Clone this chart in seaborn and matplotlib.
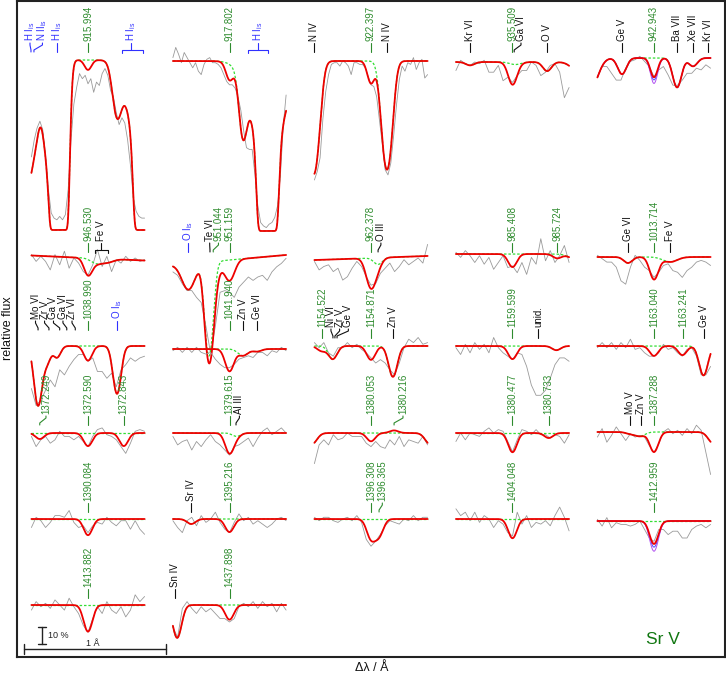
import numpy as np
import pandas as pd
import matplotlib
matplotlib.use('Agg')
import matplotlib.pyplot as plt
import seaborn as sns

# ---------------------------------------------------------------
# Line data per panel.  lines: (offset / A, optical depth, sigma / A, is Sr V)
# gray: observed relative flux in percent, evenly spread over -0.4 .. +0.4 A
# labels: (text, line offset, label offset, kind, bracket span)
# ---------------------------------------------------------------
lines_915994 = [(-0.47, 1.6, 0.08, 0), (-0.29, 0.6, 0.025, 0), (-0.205, 30.0, 0.029, 0),
                (0.0, 0.06, 0.024, 1), (0.205, 0.35, 0.03, 0), (0.396, 30.0, 0.029, 0),
                (0.396, 0.9, 0.085, 0)]
gray_915994 = [43, 53, 60, 64, 59, 44, 24, 10, 7, 6, 8, 6, 9, 24, 53, 74, 84, 92, 89, 91, 86,
               89, 81, 87, 85, 92, 95, 91, 82, 78, 69, 62, 66, 63, 53, 38, 19, 11, 8, 7, 7]
labels_915994 = [("H I$_{\\rm is}$", -0.403, -0.41, 'is', None),
                 ("N II$_{\\rm is}$", -0.382, -0.322, 'is', None),
                 ("H I$_{\\rm is}$", -0.219, -0.219, 'is', None),
                 ("915.994", 0.0, 0.0, 'sr', None),
                 ("H I$_{\\rm is}$", 0.304, 0.304, 'is', (0.24, 0.389))]

lines_917802 = [(0.0, 0.10, 0.025, 1), (0.095, 0.45, 0.025, 0), (0.27, 30.0, 0.03, 0),
                (0.27, 0.8, 0.10, 0)]
gray_917802 = [102, 108, 104, 99, 105, 102, 99, 96, 99, 94, 92, 98, 101, 102, 99, 99, 98, 96, 92,
               88, 86, 86, 84, 79, 71, 59, 49, 48, 48, 33, 15, 5, 3, 2, 4, 5, 8, 15, 33, 62, 80]
labels_917802 = [("917.802", 0.0, 0.0, 'sr', None),
                 ("H I$_{\\rm is}$", 0.2, 0.2, 'is', (0.13, 0.272))]

lines_922397 = [(-0.405, 1.1, 0.035, 0), (0.0, 0.14, 0.025, 1), (0.113, 1.02, 0.033, 0)]
gray_922397 = [30, 35, 43, 66, 82, 92, 98, 99, 99, 97, 100, 99, 97, 92, 99, 99, 98, 98, 96, 91,
               86, 85, 79, 65, 51, 36, 33, 40, 56, 74, 89, 97, 94, 99, 98, 102, 95, 99, 101, 90, 92]
labels_922397 = [("N IV", -0.403, -0.403, 'id', None), ("922.397", 0.0, 0.0, 'sr', None),
                 ("N IV", 0.113, 0.113, 'id', None)]

lines_935509 = [(-0.30, 0.02, 0.03, 0), (0.0, 0.13, 0.03, 1), (0.02, 0.015, 0.04, 0),
                (0.245, 0.055, 0.03, 0), (0.47, 0.06, 0.05, 0)]
gray_935509 = [95, 101, 99, 98, 100, 99, 101, 94, 94, 98, 89, 91, 88, 92, 95, 95, 100, 98, 92,
               94, 98, 99, 94, 79, 85]
labels_935509 = [("Kr VI", -0.30, -0.30, 'id', None), ("935.509", 0.0, 0.0, 'sr', None),
                 ("Ga VI", 0.012, 0.06, 'id', None), ("O V", 0.244, 0.244, 'id', None)]

lines_942943 = [(-0.45, 0.2, 0.05, 0), (-0.226, 0.1, 0.03, 0), (0.0, 0.12, 0.025, 1),
                (0.163, 0.19, 0.03, 0), (0.276, 0.05, 0.03, 0)]
gray_942943 = [89, 95, 95, 91, 87, 87, 94, 98, 99, 101, 98, 95, 89, 93, 95, 90, 84, 84, 87, 91,
               91, 94, 93, 96, 94]
labels_942943 = [("Ge V", -0.226, -0.226, 'id', None), ("942.943", 0.0, 0.0, 'sr', None),
                 ("Ba VII", 0.163, 0.163, 'id', None), ("Xe VII", 0.276, 0.276, 'id', None),
                 ("Kr VI", 0.382, 0.382, 'id', None)]

lines_946530 = [(0.0, 0.10, 0.028, 1), (0.06, 0.03, 0.04, 0), (0.14, 0.02, 0.04, 0)]
gray_946530 = [102, 98, 101, 98, 93, 102, 96, 104, 94, 100, 97, 92, 90, 96, 105, 95, 101, 92, 99,
               97, 101, 98, 100, 98, 99]
labels_946530 = [("946.530", 0.0, 0.0, 'sr', None), ("Fe V", 0.092, 0.092, 'id', (0.049, 0.141))]

lines_951159 = [(-0.29, 0.17, 0.045, 0), (-0.145, 0.82, 0.027, 0), (-0.115, 0.15, 0.035, 1),
                (0.0, 0.13, 0.035, 1)]
gray_951159 = [93, 91, 86, 82, 82, 78, 75, 61, 45, 61, 81, 82, 81, 78, 84, 87, 90, 88, 90, 91,
               88, 93, 96, 98, 101]
labels_951159 = [("O I$_{\\rm is}$", -0.293, -0.293, 'is', None), ("Te VI", -0.138, -0.14, 'id', None),
                 ("951.044", -0.115, -0.078, 'sr', None), ("951.159", 0.0, 0.0, 'sr', None)]

lines_962378 = [(0.0, 0.19, 0.033, 1), (0.05, 0.04, 0.03, 0)]
gray_962378 = [98, 93, 95, 96, 92, 94, 87, 89, 94, 98, 95, 89, 84, 85, 91, 94, 97, 92, 95, 99,
               96, 98, 100, 97, 108]
labels_962378 = [("962.378", 0.0, 0.0, 'sr', None), ("O III", 0.05, 0.07, 'id', None)]

lines_985408 = [(0.0, 0.08, 0.03, 1), (0.316, 0.025, 0.03, 1), (0.45, 0.03, 0.05, 0)]
gray_985408 = [101, 98, 102, 99, 95, 99, 94, 98, 91, 95, 99, 92, 93, 89, 95, 88, 98, 94, 109, 96,
               102, 95, 99, 105, 95]
labels_985408 = [("985.408", 0.0, 0.0, 'sr', None), ("985.724", 0.316, 0.316, 'sr', None)]

lines_1013714 = [(-0.184, 0.036, 0.03, 0), (0.0, 0.14, 0.03, 1), (0.113, 0.03, 0.05, 0)]
gray_1013714 = [101, 99, 97, 97, 94, 86, 84, 94, 101, 98, 94, 92, 88, 91, 95, 96, 92, 91, 88, 92,
                94, 97, 98, 97, 95]
labels_1013714 = [("Ge VI", -0.184, -0.184, 'id', None), ("1013.714", 0.0, 0.0, 'sr', None),
                  ("Fe V", 0.113, 0.113, 'id', None)]

lines_1038990 = [(-0.353, 0.43, 0.027, 0), (-0.29, 0.10, 0.025, 0), (-0.219, 0.07, 0.025, 0),
                 (0.0, 0.09, 0.028, 1), (0.205, 0.33, 0.027, 0)]
gray_1038990 = [75, 65, 68, 74, 80, 76, 86, 83, 88, 92, 95, 95, 91, 93, 85, 85, 81, 84, 76, 86,
                89, 93, 91, 93, 94]
labels_1038990 = [("Mo VI", -0.353, -0.371, 'id', None), ("Zr V", -0.276, -0.307, 'id', None),
                  ("Ga V", -0.20, -0.244, 'id', None), ("Ga VI", -0.15, -0.177, 'id', None),
                  ("Zr VI", -0.09, -0.113, 'id', None), ("1038.990", 0.0, 0.0, 'sr', None),
                  ("O I$_{\\rm is}$", 0.205, 0.205, 'is', None)]

lines_1041940 = [(0.0, 0.14, 0.03, 1), (0.095, 0.04, 0.035, 0), (0.195, 0.015, 0.03, 0)]
gray_1041940 = [99, 101, 98, 101, 98, 101, 98, 97, 98, 94, 91, 89, 89, 91, 94, 95, 96, 95, 98, 98,
                96, 99, 98, 101, 99]
labels_1041940 = [("1041.940", 0.0, 0.0, 'sr', None), ("Zn V", 0.095, 0.095, 'id', None),
                  ("Ge VI", 0.194, 0.194, 'id', None)]

lines_1154871 = [(-0.349, 0.03, 0.03, 1), (-0.27, 0.08, 0.03, 0), (0.0, 0.085, 0.03, 1),
                 (0.155, 0.2, 0.03, 0)]
gray_1154871 = [102, 99, 102, 96, 94, 99, 99, 102, 99, 101, 98, 96, 93, 90, 92, 90, 86, 83, 90, 99,
                104, 102, 105, 101, 102]
labels_1154871 = [("1154.522", -0.346, -0.346, 'sr', None), ("Ni VI", -0.269, -0.283, 'id', None),
                  ("Zr V", -0.255, -0.222, 'id', None), ("Ge V", -0.24, -0.16, 'id', None),
                  ("1154.871", 0.0, 0.0, 'sr', None), ("Zn V", 0.155, 0.155, 'id', None)]

lines_1159599 = [(0.0, 0.08, 0.03, 1), (0.31, 0.025, 0.03, 0)]
gray_1159599 = [99, 95, 101, 96, 102, 98, 101, 96, 105, 99, 96, 94, 92, 96, 95, 88, 77, 71, 71, 74,
                81, 89, 93, 93, 91]
labels_1159599 = [("1159.599", 0.0, 0.0, 'sr', None), ("unid.", 0.18, 0.18, 'id', None)]

lines_1163040 = [(0.0, 0.06, 0.03, 1), (0.201, 0.055, 0.03, 1), (0.35, 0.19, 0.03, 0)]
gray_1163040 = [99, 102, 99, 102, 98, 102, 99, 104, 98, 99, 96, 94, 94, 96, 101, 98, 99, 96, 94, 98,
                99, 94, 83, 83, 88]
labels_1163040 = [("1163.040", 0.0, 0.0, 'sr', None), ("1163.241", 0.205, 0.205, 'sr', None),
                  ("Ge V", 0.353, 0.353, 'id', None)]

lines_1372590 = [(-0.341, 0.036, 0.03, 1), (0.0, 0.08, 0.03, 1), (0.253, 0.08, 0.03, 1)]
gray_1372590 = [98, 92, 96, 98, 94, 96, 101, 98, 98, 96, 98, 95, 92, 98, 102, 103, 99, 98, 96, 92,
                88, 94, 101, 102, 101]
labels_1372590 = [("1372.249", -0.341, -0.297, 'sr', None), ("1372.590", 0.0, 0.0, 'sr', None),
                  ("1372.843", 0.253, 0.253, 'sr', None)]

lines_1379615 = [(0.0, 0.125, 0.03, 1), (0.05, 0.02, 0.03, 0)]
gray_1379615 = [98, 93, 95, 96, 90, 95, 92, 96, 99, 95, 93, 90, 87, 92, 93, 95, 97, 92, 97, 101,
                103, 99, 101, 103, 100]
labels_1379615 = [("1379.615", 0.0, 0.0, 'sr', None), ("Al III", 0.046, 0.07, 'id', None)]

lines_1380053 = [(-0.42, 0.07, 0.035, 0), (0.0, 0.05, 0.03, 1), (0.163, -0.015, 0.03, 1),
                 (0.42, 0.07, 0.035, 0)]
gray_1380053 = [82, 93, 96, 93, 99, 96, 97, 100, 98, 98, 98, 94, 92, 95, 92, 91, 96, 93, 98, 92,
                96, 95, 94, 98, 93]
labels_1380053 = [("1380.053", 0.0, 0.0, 'sr', None), ("1380.216", 0.163, 0.226, 'sr', None)]

lines_1380477 = [(0.0, 0.12, 0.03, 1), (0.256, 0.03, 0.03, 1)]
gray_1380477 = [95, 100, 96, 100, 99, 98, 101, 103, 100, 102, 101, 95, 89, 96, 102, 101, 99, 102,
                99, 99, 97, 99, 98, 94, 99]
labels_1380477 = [("1380.477", 0.0, 0.0, 'sr', None), ("1380.733", 0.256, 0.256, 'sr', None)]

lines_1387288 = [(-0.17, 0.01, 0.03, 0), (-0.1, 0.025, 0.035, 0), (0.0, 0.125, 0.03, 1),
                 (0.42, 0.07, 0.035, 0)]
gray_1387288 = [97, 102, 94, 98, 103, 99, 95, 99, 97, 98, 97, 92, 88, 93, 100, 102, 99, 101, 98,
                102, 99, 104, 101, 88, 75]
labels_1387288 = [("Mo V", -0.17, -0.17, 'id', None), ("Zn V", -0.092, -0.092, 'id', None),
                  ("1387.288", 0.0, 0.0, 'sr', None)]

lines_1390084 = [(0.0, 0.1, 0.03, 1)]
gray_1390084 = [95, 101, 99, 95, 98, 102, 102, 101, 105, 98, 95, 96, 92, 96, 98, 97, 101, 98, 96,
                99, 99, 94, 99, 94, 91]
labels_1390084 = [("1390.084", 0.0, 0.0, 'sr', None)]

lines_1395216 = [(-0.27, 0.03, 0.03, 0), (0.0, 0.08, 0.03, 1)]
gray_1395216 = [99, 95, 92, 99, 101, 96, 102, 98, 100, 104, 98, 94, 92, 98, 103, 99, 101, 97, 99,
                97, 95, 97, 100, 101, 99]
labels_1395216 = [("Sr IV", -0.272, -0.272, 'id', None), ("1395.216", 0.0, 0.0, 'sr', None)]

lines_1396308 = [(0.0, 0.12, 0.03, 1), (0.057, 0.1, 0.03, 1)]
gray_1396308 = [101, 99, 101, 101, 99, 98, 100, 101, 99, 102, 98, 88, 84, 87, 91, 96, 99, 98, 97,
                100, 99, 102, 99, 101, 101]
labels_1396308 = [("1396.308", 0.0, 0.0, 'sr', None), ("1396.365", 0.057, 0.08, 'sr', None)]

lines_1404048 = [(0.0, 0.12, 0.03, 1)]
gray_1404048 = [106, 102, 104, 99, 104, 98, 102, 100, 95, 99, 97, 92, 90, 104, 97, 102, 95, 98, 97,
                99, 96, 102, 107, 101, 93]
labels_1404048 = [("1404.048", 0.0, 0.0, 'sr', None)]

lines_1412959 = [(0.0, 0.145, 0.03, 1)]
gray_1412959 = [101, 97, 102, 96, 99, 98, 98, 97, 98, 100, 95, 90, 88, 95, 95, 92, 94, 94, 90, 90,
                95, 97, 98, 96, 98]
labels_1412959 = [("1412.959", 0.0, 0.0, 'sr', None)]

lines_1413882 = [(0.0, 0.17, 0.03, 1)]
gray_1413882 = [97, 102, 99, 101, 98, 103, 100, 97, 104, 99, 95, 88, 84, 92, 99, 95, 102, 97, 95,
                99, 93, 97, 106, 102, 105]
labels_1413882 = [("1413.882", 0.0, 0.0, 'sr', None)]

lines_1437898 = [(-0.37, 0.215, 0.03, 0), (0.0, 0.09, 0.03, 1)]
gray_1437898 = [87, 81, 98, 102, 98, 95, 99, 96, 98, 95, 92, 92, 90, 92, 99, 101, 99, 102, 98, 102,
                99, 101, 96, 101, 97]
labels_1437898 = [("Sn IV", -0.385, -0.385, 'id', None), ("1437.898", 0.0, 0.0, 'sr', None)]

# Sr abundance steps shown for two lines (blue, violet)
abund_steps = [1.15, 1.35]

# layout: column, continuum pixel row, label pixel row, continuum slope, data, extra models
layout = [
    (0, 60, 52, 0.0, lines_915994, gray_915994, labels_915994, False),
    (1, 61, 52, 0.0, lines_917802, gray_917802, labels_917802, False),
    (2, 61, 52, 0.0, lines_922397, gray_922397, labels_922397, False),
    (3, 62, 52, 0.0, lines_935509, gray_935509, labels_935509, False),
    (4, 58, 52, 0.0, lines_942943, gray_942943, labels_942943, True),
    (0, 258, 252, -0.037, lines_946530, gray_946530, labels_946530, False),
    (1, 260, 252, 0.074, lines_951159, gray_951159, labels_951159, False),
    (2, 258, 252, 0.03, lines_962378, gray_962378, labels_962378, False),
    (3, 254, 252, 0.0, lines_985408, gray_985408, labels_985408, False),
    (4, 257, 252, 0.0, lines_1013714, gray_1013714, labels_1013714, False),
    (0, 346, 330, 0.0, lines_1038990, gray_1038990, labels_1038990, False),
    (1, 349, 330, 0.0, lines_1041940, gray_1041940, labels_1041940, False),
    (2, 346, 338, 0.0, lines_1154871, gray_1154871, labels_1154871, False),
    (3, 346, 338, 0.0, lines_1159599, gray_1159599, labels_1159599, False),
    (4, 346, 338, 0.0, lines_1163040, gray_1163040, labels_1163040, False),
    (0, 433, 425, 0.0, lines_1372590, gray_1372590, labels_1372590, False),
    (1, 433, 425, 0.0, lines_1379615, gray_1379615, labels_1379615, False),
    (2, 433, 425, 0.0, lines_1380053, gray_1380053, labels_1380053, False),
    (3, 433, 425, 0.0, lines_1380477, gray_1380477, labels_1380477, False),
    (4, 432, 425, 0.0, lines_1387288, gray_1387288, labels_1387288, False),
    (0, 519, 512, 0.0, lines_1390084, gray_1390084, labels_1390084, False),
    (1, 519, 512, 0.0, lines_1395216, gray_1395216, labels_1395216, False),
    (2, 519, 512, 0.0, lines_1396308, gray_1396308, labels_1396308, False),
    (3, 519, 512, 0.0, lines_1404048, gray_1404048, labels_1404048, False),
    (4, 521, 512, 0.0, lines_1412959, gray_1412959, labels_1412959, True),
    (0, 605, 598, 0.0, lines_1413882, gray_1413882, labels_1413882, False),
    (1, 605, 598, 0.0, lines_1437898, gray_1437898, labels_1437898, False),
]

sns.set_theme(style='white')
plt.rcParams['font.family'] = ['Liberation Sans', 'DejaVu Sans']
plt.rcParams['mathtext.fontset'] = 'custom'
plt.rcParams['mathtext.rm'] = 'Liberation Sans'
plt.rcParams['mathtext.it'] = 'Liberation Sans:italic'

FLUX_PX = 170.0          # pixels per unit relative flux
PX = 1.0 / FLUX_PX
label_colors = {'sr': '#2e8b2e', 'id': '#111111', 'is': '#3030ff'}


def model(dx, lines, sr_scale=1.0, with_sr=True):
    tau = np.zeros_like(dx)
    for off, t, s, is_sr in lines:
        if is_sr:
            if not with_sr:
                continue
            t = t * sr_scale
        tau += t * np.exp(-0.5 * ((dx - off) / s) ** 2)
    return np.exp(-tau)


fig = plt.figure(figsize=(7.26, 6.76), dpi=100)
ax = fig.add_axes([17 / 726, 19 / 676, 708 / 726, 656 / 676])
ax.set_xlim(-0.5018, 4.5018)
ax.set_ylim(0, 656 / FLUX_PX)
ax.set_xticks([])
ax.set_yticks([])
for sp in ax.spines.values():
    sp.set_color('#222222')
    sp.set_linewidth(1.5)

dx_fine = np.linspace(-0.4, 0.4, 321)

for col, cont_px, lab_px, tilt, lines, gray, labels, extra in layout:
    base = (657 - cont_px) / FLUX_PX
    cont = 1 + tilt * dx_fine
    xs = col + dx_fine

    g = np.array(gray) / 100.0
    dg = np.linspace(-0.4, 0.4, len(g))
    sns.lineplot(x=col + dg, y=base + g - 1, ax=ax, color='#9a9a9a', lw=0.6,
                 estimator=None, sort=False, errorbar=None)

    green = cont * model(dx_fine, lines, with_sr=False)
    sns.lineplot(x=xs, y=base + green - 1, ax=ax, color='#33dd33', lw=0.9,
                 linestyle=(0, (2, 1.5)), estimator=None, sort=False, errorbar=None)

    if extra:
        for fac, c in zip(abund_steps, ['#4a4aff', '#b050f0']):
            alt = cont * model(dx_fine, lines, sr_scale=fac)
            sns.lineplot(x=xs, y=base + alt - 1, ax=ax, color=c, lw=0.7,
                         estimator=None, sort=False, errorbar=None)

    red = cont * model(dx_fine, lines)
    sns.lineplot(x=xs, y=base + red - 1, ax=ax, color='#ee0000', lw=1.3,
                 estimator=None, sort=False, errorbar=None)

    # line identifications
    y0 = (657 - lab_px) / FLUX_PX
    for text, xl, xt, kind, span in labels:
        c = label_colors[kind]
        X = col + xt
        XL = col + xl
        if span is not None:
            a, b = col + span[0], col + span[1]
            ax.plot([a, a, b, b], [y0 - 1 * PX, y0 + 2 * PX, y0 + 2 * PX, y0 - 1 * PX],
                    color=c, lw=0.8)
            ax.plot([X, X], [y0 + 2 * PX, y0 + 9 * PX], color=c, lw=0.8)
        elif abs(xl - xt) > 1e-6:
            ax.plot([XL, XL, X, X], [y0, y0 + 2 * PX, y0 + 7 * PX, y0 + 9 * PX], color=c, lw=0.8)
        else:
            ax.plot([X, X], [y0, y0 + 9 * PX], color=c, lw=0.8)
        ax.text(X, y0 + 11 * PX, text, rotation=90, ha='center', va='bottom',
                fontsize=7, color=c)

# scale bars
bx = (42 - 88) / 141.5
ax.plot([bx, bx], [13 * PX, 30 * PX], color='#222222', lw=1.0)
ax.plot([bx - 0.028, bx + 0.028], [13 * PX, 13 * PX], color='#222222', lw=1.0)
ax.plot([bx - 0.028, bx + 0.028], [30 * PX, 30 * PX], color='#222222', lw=1.0)
ax.text(bx + 0.04, 21 * PX, '10 %', fontsize=6.5, va='center', ha='left', color='#222222')

lx0, lx1 = (24 - 88) / 141.5, (24 - 88) / 141.5 + 1.0
ax.plot([lx0, lx1], [8 * PX, 8 * PX], color='#222222', lw=1.0)
ax.plot([lx0, lx0], [3 * PX, 13 * PX], color='#222222', lw=1.0)
ax.plot([lx1, lx1], [3 * PX, 13 * PX], color='#222222', lw=1.0)
ax.text((lx0 + lx1) / 2 - 0.015, 9 * PX, '1 Å', fontsize=6.5, va='bottom', ha='center',
        color='#222222')

ax.text((663 - 88) / 141.5, 17 * PX, 'Sr V', fontsize=12.5, color='#117711',
        ha='center', va='center')

fig.text(8 / 726, 1 - 328 / 676, 'relative flux', rotation=90, ha='center', va='center',
         fontsize=9, color='#111111')
fig.text(372 / 726, 1 - 668 / 676, 'Δλ / Å', ha='center', va='center', fontsize=9,
         color='#111111')

fig.savefig('out.png', dpi=100)
